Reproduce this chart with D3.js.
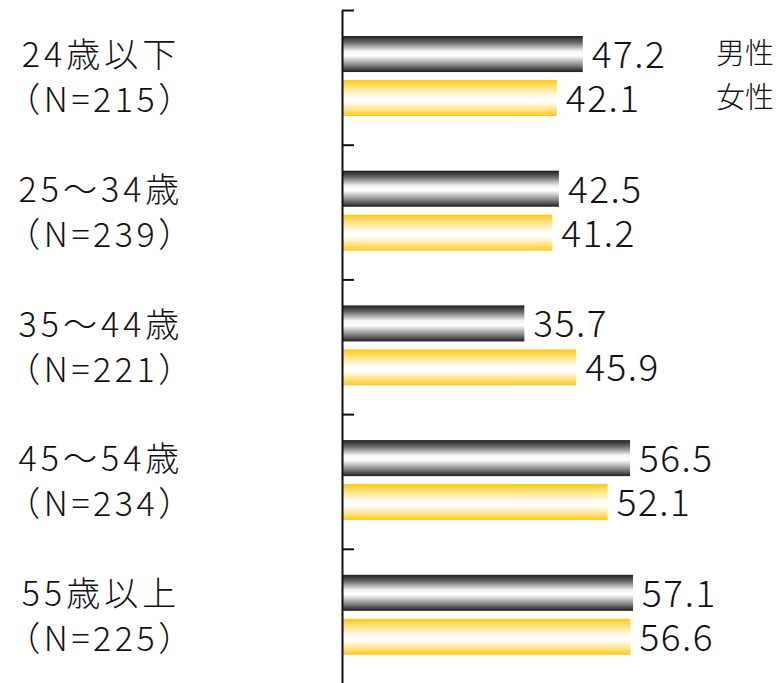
<!DOCTYPE html>
<html>
<head>
<meta charset="utf-8">
<script src="https://cdn.jsdelivr.net/npm/d3@7"></script>
<style>
  html, body { margin: 0; padding: 0; background: #fff; }
  svg { display: block; }
</style>
</head>
<body>
<div id="chart"></div>
<script>
// categories (age groups), two label lines each
const ageLabels = ["24歳以下", "25～34歳", "35～44歳", "45～54歳", "55歳以上"];
const sampleLabels = ["（N=215）", "（N=239）", "（N=221）", "（N=234）", "（N=225）"];
const seriesNames = ["男性", "女性"];
const maleValues = [47.2, 42.5, 35.7, 56.5, 57.1];
const femaleValues = [42.1, 41.2, 45.9, 52.1, 56.6];

{
	const W = 782, H = 683;
	const axisX = 342;
	const jpFont = "'Noto Sans CJK JP', 'Noto Sans', sans-serif";

	const rows = ageLabels.map((a, i) => ({
		key: a,
		sub: sampleLabels[i],
		values: [
			{ series: seriesNames[0], v: maleValues[i] },
			{ series: seriesNames[1], v: femaleValues[i] }
		]
	}));

	const svg = d3.select("#chart").append("svg")
		.attr("width", W)
		.attr("height", H);

	// gradients for the shiny bars
	const defs = svg.append("defs");
	const gradStops = {
		male: [[0, "#1e1e1e"], [0.18, "#6a6a6a"], [0.42, "#f4f4f4"], [0.55, "#ffffff"], [0.8, "#8a8a8a"], [1, "#1e1e1e"]],
		female: [[0, "#ffc719"], [0.2, "#ffe27a"], [0.45, "#fffaf0"], [0.6, "#ffffff"], [0.85, "#ffe07a"], [1, "#ffc719"]]
	};
	Object.entries(gradStops).forEach(([id, stops]) => {
		const g = defs.append("linearGradient")
			.attr("id", "grad-" + id)
			.attr("x1", 0).attr("y1", 0).attr("x2", 0).attr("y2", 1);
		g.selectAll("stop").data(stops).enter().append("stop")
			.attr("offset", d => d[0])
			.attr("stop-color", d => d[1]);
	});
	const fillFor = s => s === seriesNames[0] ? "url(#grad-male)" : "url(#grad-female)";

	const y = d3.scaleBand()
		.domain(ageLabels)
		.range([10, 683.5])
		.paddingInner(0);

	const ySub = d3.scaleBand()
		.domain(seriesNames)
		.range([26, 106])
		.paddingInner(0.18);

	const x = d3.scaleLinear()
		.domain([0, 80])
		.range([axisX + 1, axisX + 1 + 406.4]);

	// groups
	const groups = svg.selectAll("g.group")
		.data(rows)
		.enter().append("g")
			.classed("group", true)
			.attr("transform", d => "translate(0," + y(d.key) + ")");

	groups.selectAll("rect.bar")
		.data(d => d.values)
		.enter().append("rect")
			.classed("bar", true)
			.attr("x", x(0))
			.attr("y", d => ySub(d.series))
			.attr("width", d => x(d.v) - x(0))
			.attr("height", ySub.bandwidth())
			.attr("fill", d => fillFor(d.series));

	groups.selectAll("text.val")
		.data(d => d.values)
		.enter().append("text")
			.classed("val", true)
			.attr("x", d => x(d.v) + 9)
			.attr("y", d => ySub(d.series) + ySub.bandwidth() / 2 + 14)
			.attr("font-family", jpFont)
			.attr("font-weight", 300)
			.attr("font-size", 37)
			.attr("letter-spacing", 1.5)
			.attr("fill", "#111")
			.text(d => d.v.toFixed(1));

	// category labels (two lines, centred)
	const labelX = 101;
	groups.append("text")
		.attr("x", labelX)
		.attr("y", y.bandwidth() / 2 - 10)
		.attr("text-anchor", "middle")
		.attr("font-family", jpFont)
		.attr("font-weight", 300)
		.attr("font-size", 34)
		.attr("letter-spacing", 4)
		.attr("fill", "#111")
		.text(d => d.key);

	groups.append("text")
		.attr("x", labelX)
		.attr("y", y.bandwidth() / 2 + 35)
		.attr("text-anchor", "middle")
		.attr("font-family", jpFont)
		.attr("font-weight", 300)
		.attr("font-size", 34)
		.attr("letter-spacing", 3.5)
		.attr("fill", "#111")
		.text(d => d.sub);

	// axis: vertical line with ticks pointing right at band edges
	const yEdge = d3.scaleLinear()
		.domain([0, ageLabels.length])
		.range([10, 683.5]);
	const axis = svg.append("g")
		.attr("transform", "translate(" + axisX + ",0)")
		.call(d3.axisRight(yEdge)
			.ticks(ageLabels.length)
			.tickSize(12)
			.tickSizeOuter(0)
			.tickFormat(""));
	axis.selectAll("path, line")
		.attr("stroke", "#111")
		.attr("stroke-width", 2);

	// legend (series names, next to first group)
	svg.append("g").selectAll("text")
		.data(seriesNames)
		.enter().append("text")
			.attr("x", 716)
			.attr("y", d => y(ageLabels[0]) + ySub(d) + ySub.bandwidth() / 2 + 10)
			.attr("font-family", jpFont)
			.attr("font-weight", 300)
			.attr("font-size", 29)
			.attr("fill", "#111")
			.text(d => d);
}
</script>
</body>
</html>
